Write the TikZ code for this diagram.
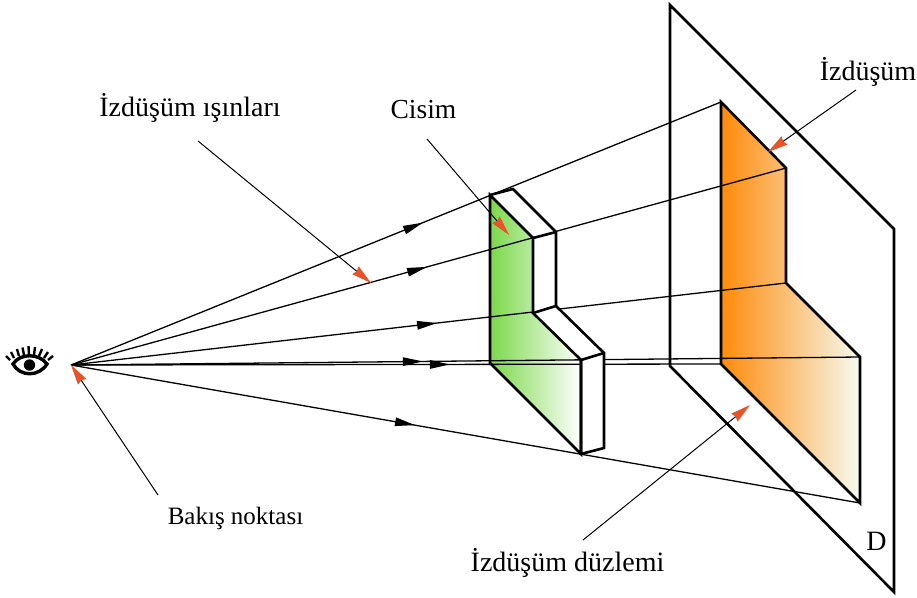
\documentclass[tikz,border=0pt]{standalone}
\usepackage{fontspec}
\setmainfont{Liberation Serif}
\usetikzlibrary{arrows.meta,decorations.markings}
\definecolor{tipred}{HTML}{E9532A}
\definecolor{grn}{HTML}{7BD84A}
\definecolor{org}{HTML}{FF8A0A}
\definecolor{orgend}{HTML}{F6FBF0}
\tikzset{
  outline/.style={line width=2.6pt,line join=miter,line cap=round},
  ray/.style={line width=1.3pt,black},
  rayarrow/.style={ray,postaction={decorate},decoration={markings,mark=at position #1 with {\arrow{Stealth[length=20pt,width=8.5pt,inset=0pt]}}}},
  leader/.style={line width=1pt,-{Stealth[length=20pt,width=10pt,inset=1.5pt,color=tipred]}},
  lbl/.style={font=\fontsize{#1}{30}\selectfont,inner sep=0pt,text=black},
  lbl/.default=28,
  lash/.style={line width=2.4pt},
}
\begin{document}
\begin{tikzpicture}[x=1pt,y=-1pt]
\useasboundingbox (0,0) rectangle (917,597);
% points
\coordinate (E) at (71,365);
\coordinate (p1) at (670,5);
\coordinate (p2) at (894,229);
\coordinate (p3) at (894,592);
\coordinate (p4) at (670,366);
\coordinate (o1) at (721,102);
\coordinate (o2) at (786,168);
\coordinate (o3) at (786,283);
\coordinate (o4) at (860,357);
\coordinate (o5) at (860,503);
\coordinate (o6) at (721,364);
\coordinate (g1) at (490,195);
\coordinate (g2) at (533,238);
\coordinate (g3) at (533,313);
\coordinate (g4) at (581,360);
\coordinate (g5) at (581,454);
\coordinate (g6) at (490,363);
\coordinate (d1) at (513,189);
\coordinate (d2) at (556,232);
\coordinate (d3) at (556,306);
\coordinate (d4) at (604,353);
\coordinate (d5) at (604,448);
% fills
\fill[left color=org,right color=orgend] (o1)--(o2)--(o3)--(o4)--(o5)--(o6)--cycle;
\fill[left color=grn,right color=white] (g1)--(g2)--(g3)--(g4)--(g5)--(g6)--cycle;
% plane
\draw[outline] (p1)--(p2)--(p3)--(p4)--cycle;
% rays
\draw[rayarrow=0.5415] (E)--(o1);
\draw[rayarrow=0.498] (E)--(o2);
\draw[rayarrow=0.512] (E)--(o3);
\draw[rayarrow=0.446] (E)--(o4);
\draw[rayarrow=0.583] (E)--(o6);
\draw[rayarrow=0.436] (E)--(o5);
% object side faces
\fill[white] (g1)--(d1)--(d2)--(g2)--cycle;
\fill[white] (g2)--(d2)--(d3)--(g3)--cycle;
\fill[white] (g3)--(d3)--(d4)--(g4)--cycle;
\fill[white] (g4)--(d4)--(d5)--(g5)--cycle;
\draw[outline] (g1)--(g2)--(g3)--(g4)--(g5)--(g6)--cycle;
\draw[outline] (g1)--(d1)--(d2)--(d3)--(d4)--(d5)--(g5);
\draw[outline] (g2)--(d2) (g3)--(d3) (g4)--(d4) (g4)--(g5);
% projection
\draw[outline] (o6)--(o1)--(o2)--(o3)--(o4)--(o5)--cycle;
% eye
\foreach \a/\b/\c/\d in {10/360/6/356,14/358/11/352,19/356/17/349,24/355/22.5/347.5,29/355/28.5/346,34/355/35/347,39/356/42/349,44/358/48/352,48/360/53/356}{\draw[lash] (\a,\b) -- (\c,\d);}
\draw[line width=3.4pt,fill=white] (13,364) .. controls (20,353) and (39,353) .. (47,364) .. controls (39,377) and (20,377) .. (13,364) -- cycle;
\fill (29.5,365) circle (5.7pt);
% labels
\node[lbl] (lrays) at (190,108) {İzdüşüm ışınları};
\node[lbl=27.5] (lcisim) at (423.5,110) {Cisim};
\node[lbl] (lproj) at (868,72) {İzdüşüm};
\node[lbl=25] (lview) at (235.5,518) {Bakış noktası};
\node[lbl] (lplane) at (567.5,563) {İzdüşüm düzlemi};
\node[lbl=28] (ld) at (876.5,541) {D};
\coordinate (a1) at (198,141); \coordinate (a1e) at (371,283);
\coordinate (a2) at (427,139); \coordinate (a2e) at (509,235);
\coordinate (a3) at (856,90); \coordinate (a3e) at (768,152);
\coordinate (a4) at (583,540); \coordinate (a4e) at (750,405);
\coordinate (a5) at (158,495);
\draw[leader] (a1)--(a1e);
\draw[leader] (a2)--(a2e);
\draw[leader] (a3)--(a3e);
\draw[leader] (a4)--(a4e);
\draw[leader] (a5)--(E);
\end{tikzpicture}
\end{document}
